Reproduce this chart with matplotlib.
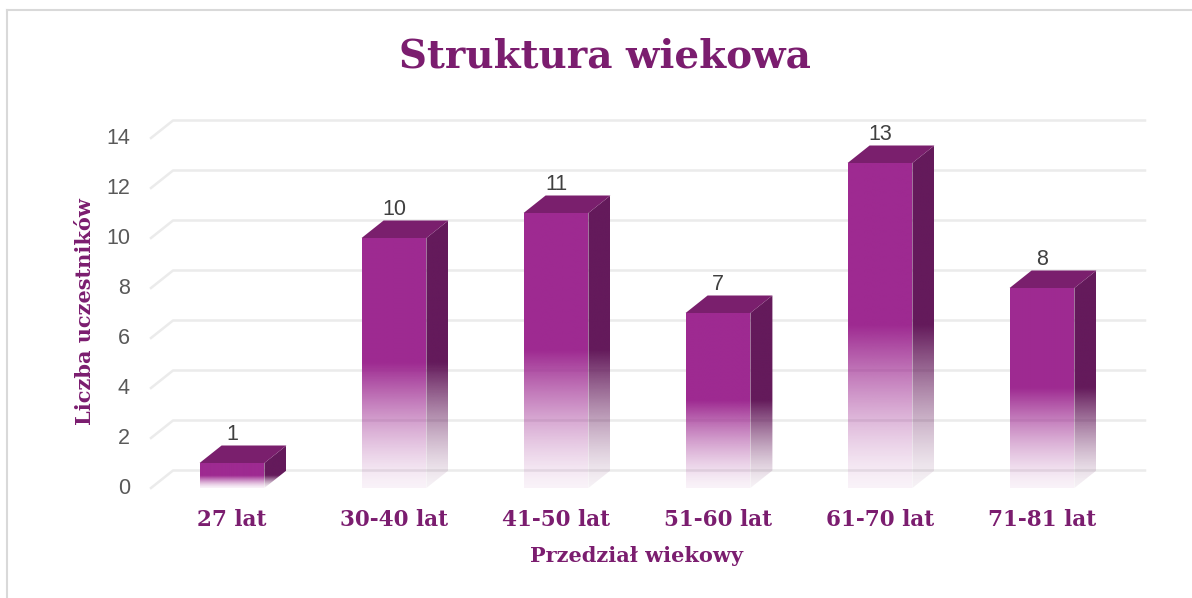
import numpy as np
import matplotlib
matplotlib.use("Agg")
import matplotlib.pyplot as plt
from matplotlib.patches import Polygon
from matplotlib.lines import Line2D
from matplotlib.colors import to_rgb

# data
categories = ["27 lat", "30-40 lat", "41-50 lat", "51-60 lat", "61-70 lat", "71-81 lat"]
counts = [1, 10, 11, 7, 13, 8]
yticks = [0, 2, 4, 6, 8, 10, 12, 14]

title = "Struktura wiekowa"
xlabel = "Przedział wiekowy"
ylabel = "Liczba uczestników"

FRONT = "#9E2A91"
TOP = "#7A1F6D"
SIDE = "#641A5B"
TEXT_PURPLE = "#7B1D6F"
GRID = "#EBEBEB"

DX = 22 / 162.0   # depth offset in x (data units)
DY = 0.70         # depth offset in y (data units)
W = 0.40          # bar width

W_PX, H_PX = 1192, 598
fig = plt.figure(figsize=(W_PX / 100, H_PX / 100), dpi=100)
ax = fig.add_axes([151 / W_PX, 110 / H_PX, 972 / W_PX, 350 / H_PX])
ax.set_xlim(0, 6)
ax.set_ylim(0, 14)
ax.axis("off")

serif = ["DejaVu Serif"]
sans = ["Liberation Sans", "DejaVu Sans"]

# grid lines on the back wall with the little floor diagonal
for v in yticks:
    ax.add_line(Line2D([0, DX, 6 + DX], [v, v + DY, v + DY], color=GRID, lw=1.8,
                       zorder=1, clip_on=False))
    ax.text(-0.13, v, str(v), ha="right", va="center", fontsize=15.5,
            color="#595959", family=sans)


def alpha_curve(frac):
    s = np.clip(frac / 0.5, 0, 1)
    return 0.06 + 0.94 * s ** 1.4


def gradient_face(poly_xy, color, x0, x1, y0, y1, height):
    poly = Polygon(poly_xy, closed=True, facecolor="none", edgecolor="none")
    ax.add_patch(poly)
    ys = np.linspace(y0, y1, 300)
    a = alpha_curve(ys / height)
    img = np.zeros((300, 2, 4))
    img[:, :, :3] = to_rgb(color)
    img[:, :, 3] = a[:, None]
    im = ax.imshow(img, extent=[x0, x1, y0, y1], origin="lower", aspect="auto",
                   interpolation="bilinear", zorder=3)
    im.set_clip_path(poly)


for i, (cat, v) in enumerate(zip(categories, counts)):
    c = i + 0.5
    xl, xr = c - W / 2, c + W / 2
    # front face
    gradient_face([(xl, 0), (xr, 0), (xr, v), (xl, v)], FRONT, xl, xr, 0, v, v)
    # side face
    gradient_face([(xr, 0), (xr + DX, DY), (xr + DX, v + DY), (xr, v)], SIDE,
                  xr, xr + DX, 0, v + DY, v)
    # top face
    ax.add_patch(Polygon([(xl, v), (xr, v), (xr + DX, v + DY), (xl + DX, v + DY)],
                         closed=True, facecolor=TOP, edgecolor="none", zorder=4))
    ax.text(c, v + DY + 0.02, str(v), ha="center", va="bottom", fontsize=15.5,
            color="#404040", family=sans, zorder=5)
    ax.text(c, -1.28, cat, ha="center", va="center", fontsize=15.5, fontweight="bold",
            color=TEXT_PURPLE, family=serif)

fig.text(605 / W_PX, 1 - 57 / H_PX, title, ha="center", va="center", fontsize=28,
         fontweight="bold", color=TEXT_PURPLE, family=serif)
fig.text(637 / W_PX, 1 - 556 / H_PX, xlabel, ha="center", va="center", fontsize=15,
         fontweight="bold", color=TEXT_PURPLE, family=serif)
fig.text(85 / W_PX, 1 - 312 / H_PX, ylabel, ha="center", va="center", fontsize=15,
         fontweight="bold", color=TEXT_PURPLE, family=serif, rotation=90)

# chart area border (left and top visible)
fig.add_artist(Line2D([7 / W_PX, 7 / W_PX], [0, 1 - 10 / H_PX], color="#D9D9D9",
                      lw=1.5, transform=fig.transFigure))
fig.add_artist(Line2D([7 / W_PX, 1], [1 - 10 / H_PX, 1 - 10 / H_PX], color="#D9D9D9",
                      lw=1.5, transform=fig.transFigure))

fig.savefig("out.png", dpi=100)
